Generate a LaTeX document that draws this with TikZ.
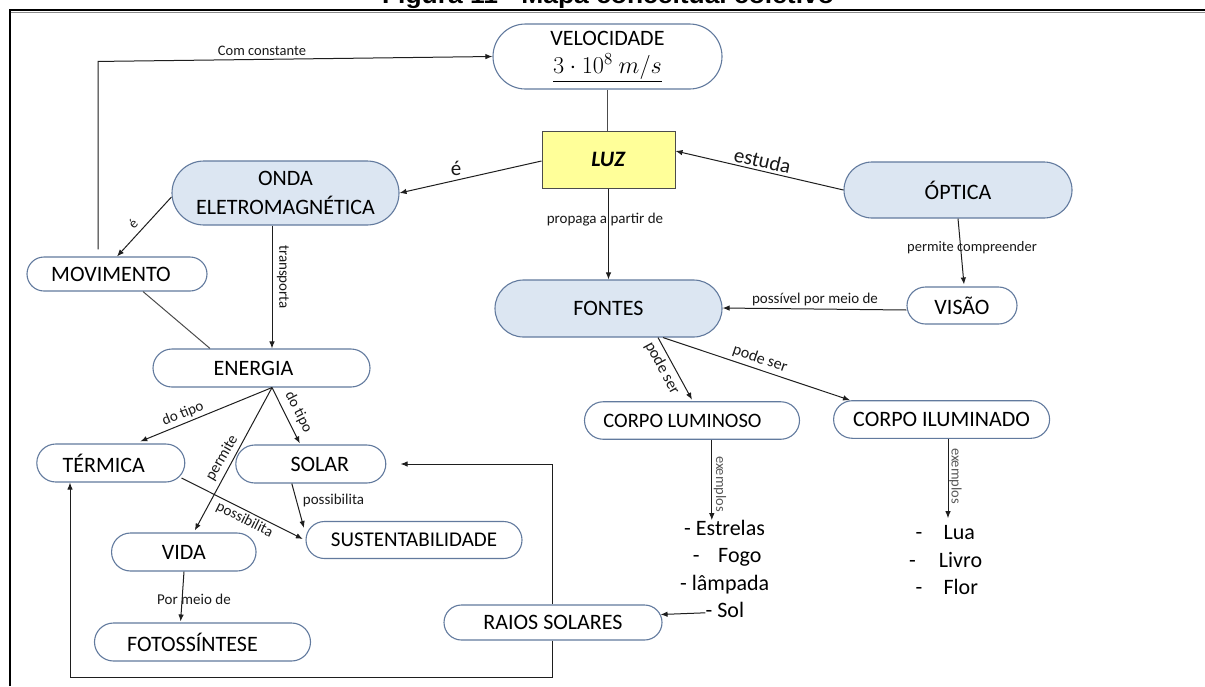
\documentclass[tikz,border=0pt]{standalone}
\usepackage{fontspec}
\setmainfont{Carlito}
\newfontfamily\titlefont{Liberation Sans}
\usetikzlibrary{shapes.misc,arrows.meta,calc}
\definecolor{nodeline}{RGB}{98,122,158}
\definecolor{paleblue}{RGB}{220,230,242}
\definecolor{luzfill}{RGB}{255,255,153}
\definecolor{linkgray}{RGB}{30,30,30}

\begin{document}
\begin{tikzpicture}[x=1pt,y=-1pt,
  concept/.style={rounded rectangle, draw=nodeline, line width=1.1pt, fill=white,
    inner sep=0pt, align=center, font=\fontsize{22}{27}\selectfont},
  blueconcept/.style={concept, fill=paleblue},
  link/.style={draw=linkgray, line width=1pt, -{Latex[length=7pt,width=5.5pt]}},
  plain/.style={draw=black!70, line width=1pt},
  lbl/.style={inner sep=0pt, text=black!90, font=\fontsize{15}{18}\selectfont},
  biglbl/.style={inner sep=0pt, text=black!90, font=\fontsize{21}{25}\selectfont},
  greylbl/.style={inner sep=0pt, text=black!65, font=\fontsize{14.5}{18}\selectfont},
  example/.style={anchor=west, inner sep=0pt, text height=15pt, text depth=5pt,
    font=\fontsize{22}{27}\selectfont}]

\useasboundingbox (0,0) rectangle (1205,686);
\fill[white] (0,0) rectangle (1205,686);

% caption above the frame
\node[anchor=base, inner sep=0pt, font=\titlefont\bfseries\fontsize{24}{28}\selectfont]
  (title) at (608,3) {\scalebox{1.1}[1]{Figura 11 - Mapa conceitual coletivo}};

% frame
\draw[line width=2pt] (9.5,686) -- (9.5,9.5) -- (1205,9.5);
\draw[black!45, line width=1pt] (10.5,12.5) -- (1205,12.5);

% concepts
\node[concept, minimum width=229pt, minimum height=65pt] (vel) at (607.5,56.5)
  {VELOCIDADE\\[1pt]\scalebox{1.17}{$\underline{3\cdot 10^{8}\ m/s}$}};
\node[rectangle, draw=black!70, line width=1pt, fill=luzfill, minimum width=133pt,
  minimum height=57pt, font=\fontsize{22}{27}\selectfont] (luz) at (608.5,159.5)
  {\textbf{\textit{LUZ}}};
\node[blueconcept, minimum width=227pt, minimum height=64pt,
  font=\fontsize{22}{29}\selectfont] (onda) at (285.5,193) {ONDA\\ELETROMAGNÉTICA};
\node[blueconcept, minimum width=228pt, minimum height=56pt] (optica) at (958,190) {ÓPTICA};
\node[concept, minimum width=180pt, minimum height=34pt] (mov) at (117,274)
  {MOVIMENTO\hspace*{12pt}};
\node[concept, minimum width=217pt, minimum height=38pt] (energia) at (261.5,368)
  {ENERGIA\hspace*{16pt}};
\node[concept, minimum width=148pt, minimum height=38pt] (termica) at (110.8,463)
  {TÉRMICA\hspace*{14pt}};
\node[concept, minimum width=150pt, minimum height=38pt] (solar) at (310.8,464)
  {\hspace*{18pt}SOLAR};
\node[concept, minimum width=144.5pt, minimum height=38pt] (vida) at (183.8,552) {VIDA};
\node[concept, minimum width=216pt, minimum height=37pt,
  font=\fontsize{21}{25}\selectfont] (sust) at (414,540) {SUSTENTABILIDADE};
\node[concept, minimum width=216pt, minimum height=38pt] (foto) at (202.5,642)
  {FOTOSSÍNTESE\hspace*{20pt}};
\node[concept, minimum width=218pt, minimum height=35pt] (raios) at (553,622.5)
  {RAIOS SOLARES};
\node[blueconcept, minimum width=227pt, minimum height=57pt] (fontes) at (608.5,308.5)
  {FONTES};
\node[concept, minimum width=110pt, minimum height=37pt] (visao) at (962,305.5) {VISÃO};
\node[concept, minimum width=215pt, minimum height=37.5pt,
  font=\fontsize{20.5}{25}\selectfont] (lum) at (692,420.5)
  {CORPO LUMINOSO\hspace*{19pt}};
\node[concept, minimum width=216pt, minimum height=37.6pt] (ilum) at (941.6,419.5)
  {CORPO ILUMINADO};

% lists of examples
\node[example] (exA) at (684,530.4) {- Estrelas};
\node[example] (exB) at (692.7,557.8) {-\hspace{18.6pt}Fogo};
\node[example] (exC) at (680,585.4) {- lâmpada};
\node[example] (exD) at (705.4,612.8) {- Sol};
\node[example] (exE) at (915.3,534.4) {-\hspace{21.3pt}Lua};
\node[example] (exF) at (909,562.1) {-\hspace{23pt}Livro};
\node[example] (exG) at (915.3,589.4) {-\hspace{21.3pt}Flor};

% connectors
\draw[plain] (vel.south) -- (vel.south |- luz.north);
\draw[link] (optica.west) -- ($(luz.east)+(0,-8.5)$);
\draw[link] ($(luz.west)+(0,1.5)$) -- (onda.east);
\draw[link] ($(onda.west)+(0,4)$) -- (mov.north);
\draw[link] ($(mov.north)+(-19,-7)$) -- ++(0,-188) -- (vel.west);
\draw[link] ($(onda.south)+(-13.5,0)$) -- ($(energia.north)+(10.5,0)$);
\draw[plain] ($(mov.south)+(26,0)$) -- ($(energia.north)+(-51.5,0)$);

\coordinate (eout) at ($(energia.south)+(10.5,0)$);
\draw[link] (eout) -- ($(termica.north)+(29.5,-2)$);
\draw[link] (eout) -- ($(solar.north)+(-11,-1)$);
\draw[link] (eout) -- ($(vida.north)+(11,-2)$);
\draw[link] ($(solar.south)+(-19,0)$) -- ($(sust.west)+(-1.5,-12)$);
\draw[link] ($(termica.east)+(-3.8,15)$) -- ($(sust.west)+(-2.6,-1)$);
\draw[link] ($(vida.south)+(0.2,0)$) -- ($(foto.north)+(-21.9,-1)$);
\draw[link] ($(raios.north)+(-1,0)$) |- ($(solar.east)+(14.2,0)$);
\draw[link] ($(raios.south)+(-1,0)$) -- ++(0,37) -| ($(termica.south)+(-40.8,0)$);

\draw[link] (luz.south) -- (luz.south |- fontes.north);
\draw[link] (optica.south) -- ($(visao.north)+(2,-2)$);
\draw[link] ($(visao.west)+(0,4.5)$) -- ($(fontes.east)+(0,-0.5)$);
\draw[link] ($(fontes.south)+(49.5,0)$) -- ($(lum.north)+(0,-1.5)$);
\draw[link] ($(fontes.south)+(54.5,0)$) -- ($(ilum.north)+(-91.6,0)$);

\coordinate (lumout) at ($(lum.south)+(19.8,0)$);
\draw[link] (lumout) -- ($(lumout |- exA.north)+(0,0)$);
\coordinate (ilumout) at ($(ilum.south)+(6.4,0)$);
\draw[link] (ilumout) -- ($(ilumout |- exE.north)+(0,-6)$);
\draw[link] (exD.west) -- ($(raios.east)+(-2,-8)$);

% link phrases
\node[lbl, font=\fontsize{14.5}{18}\selectfont] (tCom) at (262,51) {Com constante};
\node[biglbl] (tE1) at (456,168) {é};
\node[biglbl, rotate=-13.1] (tEstuda) at (762.5,160.5) {estuda};
\node[lbl, font=\fontsize{14}{18}\selectfont, rotate=47] (tE2) at (133,224) {é};
\node[lbl, rotate=-90] (tTransp) at (283,277) {transporta};
\node[lbl] (tProp) at (605,220) {propaga a partir de};
\node[lbl, font=\fontsize{14.5}{18}\selectfont] (tPerm) at (972,248) {permite compreender};
\node[lbl] (tPoss) at (815,299) {possível por meio de};
\node[lbl, font=\fontsize{16}{18}\selectfont, rotate=-61.6] (tPode1) at (662,368) {pode ser};
\node[lbl, font=\fontsize{16}{18}\selectfont, rotate=-18.9] (tPode2) at (760,359) {pode ser};
\node[greylbl, rotate=-90] (tEx1) at (720,484) {exemplos};
\node[greylbl, rotate=-90] (tEx2) at (955.6,476) {exemplos};
\node[lbl, rotate=21.9] (tTipo1) at (183,414) {do tipo};
\node[lbl, rotate=-63] (tTipo2) at (298.5,412) {do tipo};
\node[lbl, font=\fontsize{15.5}{18}\selectfont, rotate=60] (tPermite) at (222,458) {permite};
\node[lbl] (tPossib1) at (333.5,500) {possibilita};
\node[lbl, rotate=-26.5] (tPossib2) at (244.6,520) {possibilita};
\node[lbl] (tPor) at (194,599) {Por meio de};

\end{tikzpicture}
\end{document}
